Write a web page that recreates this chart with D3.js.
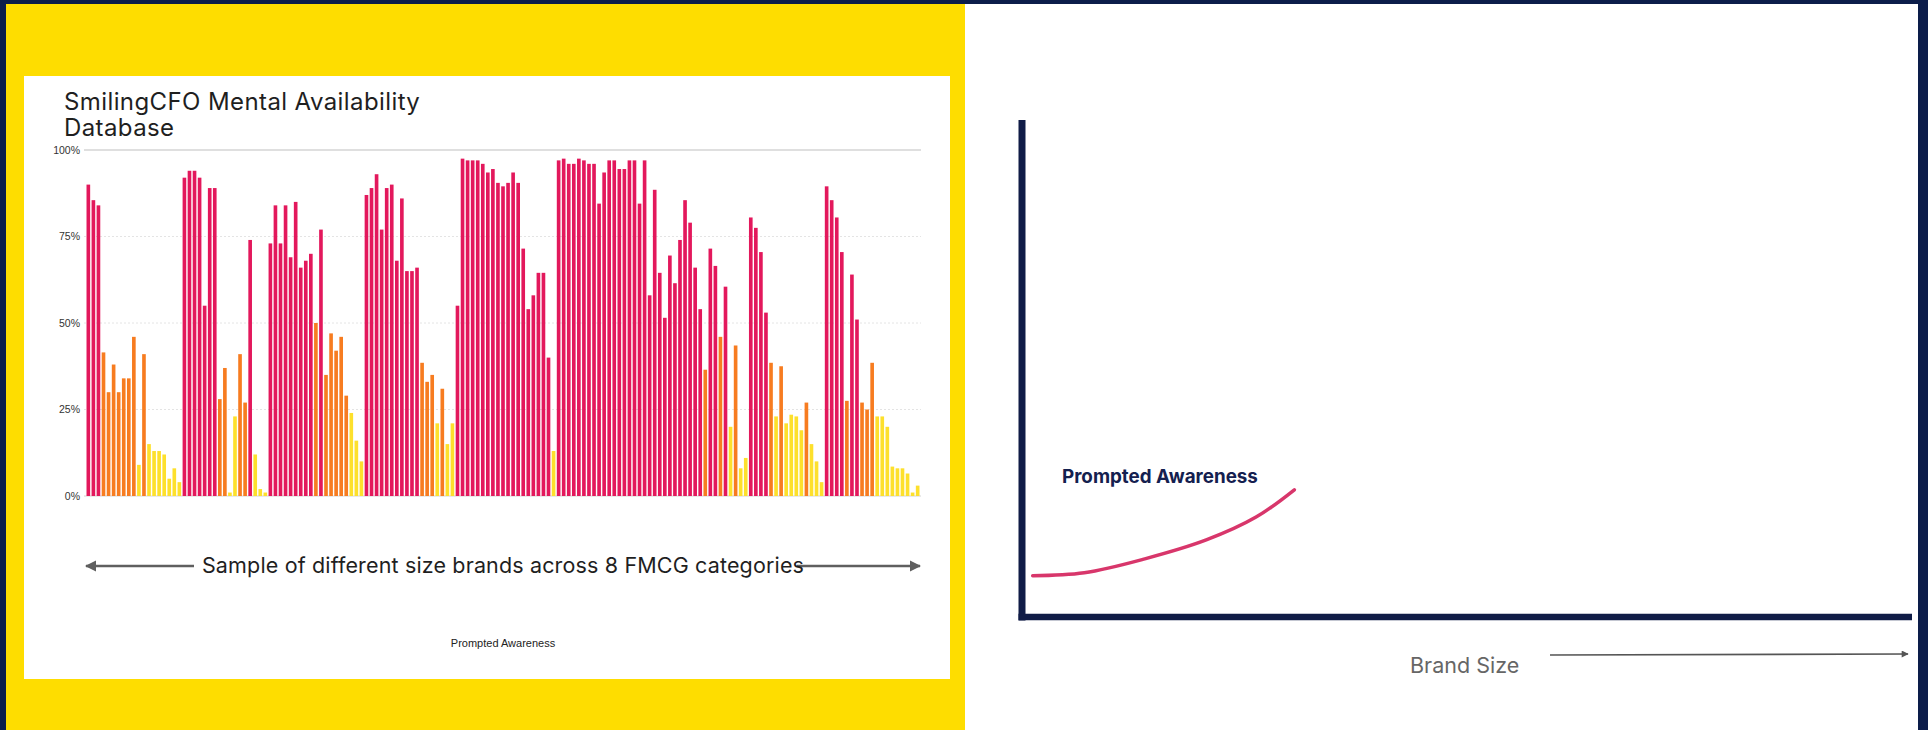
<!DOCTYPE html>
<html>
<head>
<meta charset="utf-8">
<script src="https://cdn.jsdelivr.net/npm/d3@7/dist/d3.min.js"></script>
<style>
  html, body { margin: 0; padding: 0; background: #0c1d4a; }
  svg { display: block; }
</style>
</head>
<body>
<div id="chart"></div>
<script>
// Prompted awareness per brand, read left to right off the bar chart
const promptedAwareness = [
  90, 85.5, 84, 41.5, 30, 38, 30, 34, 34, 46, 9, 41, 15, 13, 13, 12, 5, 8, 4,
  92, 94, 94, 92, 55, 89, 89, 28, 37, 1, 23, 41, 27, 74,
  12, 2, 1, 73, 84, 73, 84, 69, 85, 66, 68, 70, 50, 77, 35, 47, 42, 46, 29, 24, 16, 10,
  87, 89, 93, 77, 89, 90, 68, 86, 65, 65, 66,
  38.5, 33, 35, 21, 31, 15, 21, 55, 97.5, 97, 97, 97, 96, 93.5, 94.5, 90.5, 89.5, 90.5,
  93.5, 90.5, 71.5, 54, 58, 64.5, 64.5, 40, 13, 97, 97.5, 96, 96, 97.5, 97,
  96, 96, 84.5, 93.5, 97, 97, 94.5, 94.5, 97, 97, 84.5, 97, 58, 88.5, 64.5, 51.5, 69.5,
  61.5, 74, 85.5, 79, 66, 54, 36.5, 71.5, 66.5, 46, 60.5, 20, 43.5, 8, 11, 80.5, 77.5,
  70.5, 53, 38.5, 23, 37.5, 21, 23.5, 23, 19, 27, 15, 10, 4, 89.5, 85.5, 80.5, 70.5,
  27.5, 64, 51, 27, 25, 38.5, 23, 23, 20, 8.5, 8, 8, 6.5, 1, 3
];

// colour band of each bar: r = big, o = medium, y = small
const sizeTier = [
  'r','r','r','o','o','o','o','o','o','o','y','o','y','y','y','y','y','y','y',
  'r','r','r','r','r','r','r','o','o','y','y','o','o','r',
  'y','y','y','r','r','r','r','r','r','r','r','r','o','r','o','o','o','o','o','y','y','y',
  'r','r','r','r','r','r','r','r','r','r','r',
  'o','o','o','y','o','y','y','r','r','r','r','r','r','r','r','r','r','r',
  'r','r','r','r','r','r','r','r','y','r','r','r','r','r','r',
  'r','r','r','r','r','r','r','r','r','r','r','r','r','r','r','r','r',
  'r','r','r','r','r','r','o','r','r','o','r','y','o','y','y','r','r',
  'r','r','o','y','o','y','y','y','y','o','y','y','y','r','r','r','r',
  'o','r','r','o','o','o','y','y','y','y','y','y','y','y','y'
];

const yTicks = [0, 0.25, 0.5, 0.75, 1];

// schematic curve on the right (brand size vs awareness, both 0-100)
const curveBrandSize = [1.2, 7, 13.8, 20.7, 26.3, 30.6];
const curveAwareness = [8.3, 8.9, 11.7, 15.5, 20.1, 25.6];

const tierColor = { r: '#e3185c', o: '#f77c20', y: '#fde02c' };
const FONT = 'Inter, "Noto Sans", sans-serif';

const W = 1928, H = 730;
const svg = d3.select('#chart').append('svg')
  .attr('width', W)
  .attr('height', H)
  .attr('viewBox', [0, 0, W, H]);

// frame: navy border, yellow left half, white right half
svg.append('rect').attr('width', W).attr('height', H).attr('fill', '#0c1d4a');
svg.append('rect').attr('x', 6).attr('y', 4).attr('width', 959).attr('height', H - 4).attr('fill', '#fedd00');
svg.append('rect').attr('x', 965).attr('y', 4).attr('width', 953).attr('height', H - 4).attr('fill', '#ffffff');

// white card with the bar chart
svg.append('rect').attr('x', 24).attr('y', 76).attr('width', 926).attr('height', 603).attr('fill', '#ffffff');

svg.append('text')
  .attr('x', 64).attr('y', 110)
  .attr('font-family', FONT).attr('font-size', 24).attr('letter-spacing', 0.4).attr('fill', '#1f1f1f')
  .text('SmilingCFO Mental Availability');
svg.append('text')
  .attr('x', 64).attr('y', 136)
  .attr('font-family', FONT).attr('font-size', 24).attr('letter-spacing', 0.4).attr('fill', '#1f1f1f')
  .text('Database');

const x = d3.scaleBand()
  .domain(d3.range(promptedAwareness.length))
  .range([85.1, 920.9])
  .padding(0.28);

const y = d3.scaleLinear().domain([0, 1]).range([496, 150]);

// gridlines
svg.append('g')
  .selectAll('line')
  .data(yTicks)
  .enter()
  .append('line')
  .attr('x1', 84).attr('x2', 921)
  .attr('y1', d => y(d)).attr('y2', d => y(d))
  .attr('stroke', d => (d === 1 || d === 0) ? '#d4d4d4' : '#e4e4e4')
  .attr('stroke-width', d => d === 1 ? 1.5 : 1)
  .attr('stroke-dasharray', d => (d === 1 || d === 0) ? null : '2,2');

// y labels
const yAxis = svg.append('g')
  .attr('transform', 'translate(80,0)')
  .call(d3.axisLeft(y).tickValues(yTicks).tickSize(0).tickPadding(0).tickFormat(d3.format('.0%')));
yAxis.select('.domain').remove();
yAxis.selectAll('text')
  .attr('font-family', '"Liberation Sans", Arial, sans-serif')
  .attr('font-size', 10.5)
  .attr('fill', '#333');

// bars
svg.append('g')
  .selectAll('rect')
  .data(promptedAwareness)
  .enter()
  .append('rect')
  .attr('x', (d, i) => x(i))
  .attr('y', d => y(d / 100))
  .attr('width', x.bandwidth())
  .attr('height', d => y(0) - y(d / 100))
  .attr('fill', (d, i) => tierColor[sizeTier[i]]);

// double arrow under the chart
const defs = svg.append('defs');
defs.append('marker')
  .attr('id', 'arrowGrey')
  .attr('viewBox', '0 -5 10 10')
  .attr('refX', 9)
  .attr('refY', 0)
  .attr('orient', 'auto-start-reverse')
  .attr('markerWidth', 4.5)
  .attr('markerHeight', 4.5)
  .append('path')
  .attr('d', 'M0,-5L10,0L0,5Z')
  .attr('fill', '#5f5f5f');
defs.append('marker')
  .attr('id', 'arrowGreySmall')
  .attr('viewBox', '0 -5 10 10')
  .attr('refX', 9)
  .attr('refY', 0)
  .attr('orient', 'auto')
  .attr('markerWidth', 11)
  .attr('markerHeight', 7)
  .attr('markerUnits', 'userSpaceOnUse')
  .append('path')
  .attr('d', 'M0,-5L10,0L0,5Z')
  .attr('fill', '#555');

svg.append('line')
  .attr('x1', 86).attr('x2', 194).attr('y1', 566).attr('y2', 566)
  .attr('stroke', '#5f5f5f').attr('stroke-width', 2.5)
  .attr('marker-start', 'url(#arrowGrey)');
svg.append('line')
  .attr('x1', 797).attr('x2', 920).attr('y1', 566).attr('y2', 566)
  .attr('stroke', '#5f5f5f').attr('stroke-width', 2.5)
  .attr('marker-end', 'url(#arrowGrey)');

svg.append('text')
  .attr('x', 503).attr('y', 573)
  .attr('text-anchor', 'middle')
  .attr('font-family', FONT).attr('font-size', 21.5).attr('letter-spacing', 0.15).attr('fill', '#1f1f1f')
  .text('Sample of different size brands across 8 FMCG categories');

svg.append('text')
  .attr('x', 503).attr('y', 647)
  .attr('text-anchor', 'middle')
  .attr('font-family', '"Liberation Sans", Arial, sans-serif')
  .attr('font-size', 11).attr('fill', '#222')
  .text('Prompted Awareness');

// right panel: schematic axes and curve
const sx = d3.scaleLinear().domain([0, 100]).range([1022, 1912]);
const sy = d3.scaleLinear().domain([0, 100]).range([617, 120]);

svg.append('line')
  .attr('x1', sx(0)).attr('x2', sx(0))
  .attr('y1', sy(100)).attr('y2', sy(0) + 3.5)
  .attr('stroke', '#101c47').attr('stroke-width', 7);
svg.append('line')
  .attr('x1', sx(0) - 3.5).attr('x2', sx(100))
  .attr('y1', sy(0)).attr('y2', sy(0))
  .attr('stroke', '#101c47').attr('stroke-width', 6.5);

const curvePoints = curveBrandSize.map((v, i) => [v, curveAwareness[i]]);
svg.append('path')
  .datum(curvePoints)
  .attr('d', d3.line().x(d => sx(d[0])).y(d => sy(d[1])).curve(d3.curveCatmullRom.alpha(0.5)))
  .attr('fill', 'none')
  .attr('stroke', '#d8366b')
  .attr('stroke-width', 3.5)
  .attr('stroke-linecap', 'round');

svg.append('text')
  .attr('x', 1062).attr('y', 483)
  .attr('font-family', FONT).attr('font-size', 18.8).attr('font-weight', 700)
  .attr('fill', '#14204f')
  .text('Prompted Awareness');

svg.append('text')
  .attr('x', 1410).attr('y', 673)
  .attr('font-family', FONT).attr('font-size', 21.5).attr('fill', '#666')
  .text('Brand Size');

svg.append('line')
  .attr('x1', 1550).attr('x2', 1908).attr('y1', 655).attr('y2', 654)
  .attr('stroke', '#555').attr('stroke-width', 1.6)
  .attr('marker-end', 'url(#arrowGreySmall)');
</script>
</body>
</html>
